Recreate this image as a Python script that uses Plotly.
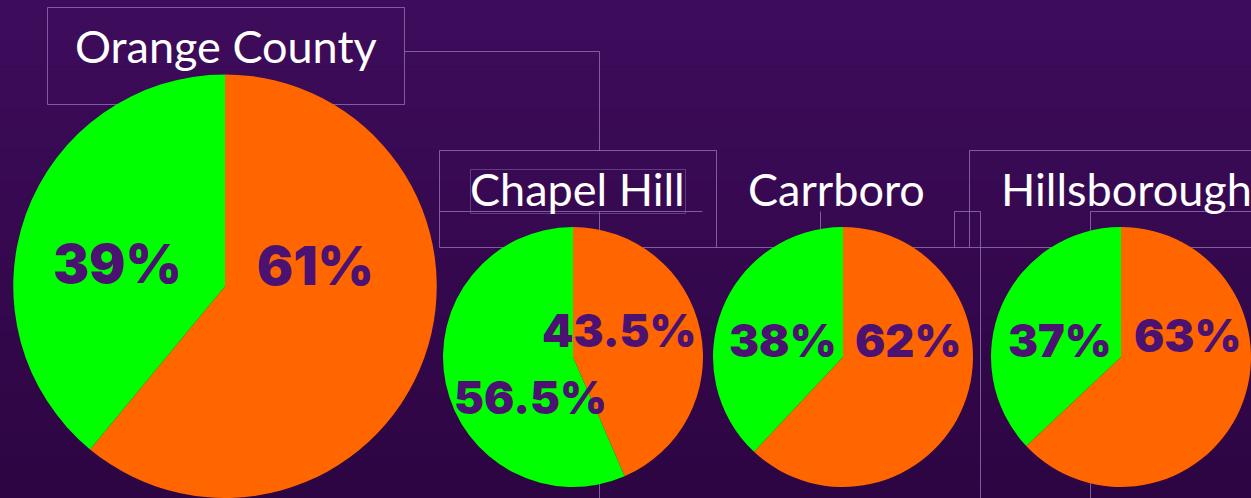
import plotly.graph_objects as go

W, H = 1251, 498

# Share of the vote, per place: [orange, green]
places = ["Orange County", "Chapel Hill", "Carrboro", "Hillsborough"]
orange_share = [61, 43.5, 62, 63]
green_share = [39, 56.5, 38, 37]
slice_colors = ["#ff6600", "#00ff00"]

# Pie placement in pixels: centre x, centre y, radius
pie_geom = [(225, 286.5, 212), (573, 357, 130), (843, 357, 130), (1121, 357, 130)]
# Percentage label centres in pixels: (orange label, green label)
label_pos = [((315, 265), (117, 263)),
             ((619, 330), (530, 397)),
             ((908, 340), (783, 340)),
             ((1187, 335), (1060, 340))]
label_size = [54, 45, 45, 45]
# Title centres in pixels
title_pos = [(226, 46), (577, 189), (836, 189), (1126, 189)]

LABEL_COLOR = "#4b1272"
LINE_COLOR = "rgba(150,120,185,0.75)"


def px(x):
    return x / W


def py(y):
    return 1 - y / H


fig = go.Figure()

for name, o, g, (cx, cy, r) in zip(places, orange_share, green_share, pie_geom):
    fig.add_trace(go.Pie(
        values=[o, g],
        labels=["Orange", "Green"],
        marker=dict(colors=slice_colors, line=dict(width=0)),
        sort=False,
        direction="clockwise",
        rotation=0,
        textinfo="none",
        hoverinfo="skip",
        domain=dict(x=[max(0, px(cx - r)), min(1, px(cx + r))],
                    y=[max(0, py(cy + r)), min(1, py(cy - r))]),
        name=name,
    ))

annotations = []
for name, (tx, ty) in zip(places, title_pos):
    annotations.append(dict(
        text=name, x=px(tx), y=py(ty), xref="paper", yref="paper",
        xanchor="center", yanchor="middle", showarrow=False,
        font=dict(family="Lato", size=45, color="white"),
    ))

for o, g, ((ox, oy), (gx, gy)), sz in zip(orange_share, green_share, label_pos, label_size):
    for v, (lx, ly) in ((o, (ox, oy)), (g, (gx, gy))):
        annotations.append(dict(
            text=f"{v:g}%", x=px(lx), y=py(ly), xref="paper", yref="paper",
            xanchor="center", yanchor="middle", showarrow=False,
            font=dict(family="Inter", size=sz, color=LABEL_COLOR, weight=900),
        ))

shapes = []
# Vertical background gradient built from thin bands
top_rgb = (62, 12, 92)
bot_rgb = (45, 5, 66)
n_bands = 60
for i in range(n_bands):
    t = i / (n_bands - 1)
    c = tuple(round(a + (b - a) * t) for a, b in zip(top_rgb, bot_rgb))
    shapes.append(dict(
        type="rect", xref="paper", yref="paper", layer="below",
        x0=0, x1=1, y0=1 - (i + 1) / n_bands, y1=1 - i / n_bands,
        fillcolor=f"rgb{c}", line=dict(width=0),
    ))

# Outline boxes and connectors of the layout tree (pixel segments)
segments = [
    (47, 7, 404, 7), (47, 7, 47, 104), (404, 7, 404, 104), (47, 104, 404, 104),
    (404, 51, 599, 51), (599, 51, 599, 150),
    (439, 150, 716, 150), (439, 150, 439, 247), (716, 150, 716, 247),
    (439, 211, 702, 211), (439, 247, 1251, 247),
    (599, 211, 599, 498),
    (820, 211, 820, 247),
    (969, 150, 1251, 150), (969, 150, 969, 247),
    (954, 211, 980, 211), (954, 211, 954, 247), (980, 211, 980, 498),
    (1090, 211, 1251, 211), (1090, 211, 1090, 498),
]
for x0, y0, x1, y1 in segments:
    shapes.append(dict(
        type="line", xref="paper", yref="paper", layer="below",
        x0=px(x0 + 0.5), x1=px(x1 + 0.5), y0=py(y0 + 0.5), y1=py(y1 + 0.5),
        line=dict(color=LINE_COLOR, width=1),
    ))

# Faint frame around the Chapel Hill heading
shapes.append(dict(
    type="rect", xref="paper", yref="paper", layer="below",
    x0=px(470.5), x1=px(685.5), y0=py(213.5), y1=py(169.5),
    line=dict(color="rgba(150,120,185,0.45)", width=1),
))

fig.update_layout(
    width=W, height=H,
    margin=dict(l=0, r=0, t=0, b=0),
    paper_bgcolor="rgb(54,9,80)",
    plot_bgcolor="rgba(0,0,0,0)",
    showlegend=False,
    shapes=shapes,
    annotations=annotations,
)

fig.write_html("out.html")
